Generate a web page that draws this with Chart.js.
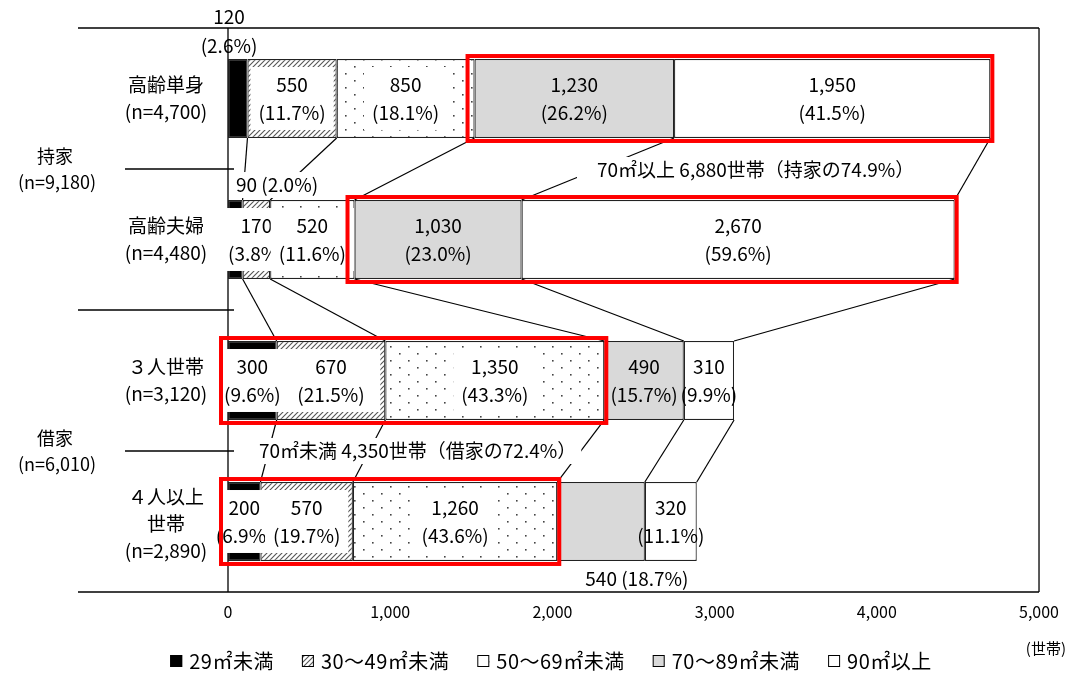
<!DOCTYPE html>
<html lang="ja">
<head>
<meta charset="utf-8">
<script src="https://cdn.jsdelivr.net/npm/chart.js@4.4.1/dist/chart.umd.min.js"></script>
<style>
  html, body { margin: 0; padding: 0; background: #fff; }
</style>
</head>
<body>
<canvas id="chart" width="1069" height="673"></canvas>
<script>
// categories and values
const categories = [['高齢単身', '(n=4,700)'], ['高齢夫婦', '(n=4,480)'], ['３人世帯', '(n=3,120)'], ['４人以上', '世帯', '(n=2,890)']];
const groupLabels = [['持家', '(n=9,180)'], ['借家', '(n=6,010)']];
const sizeLabels = ['29㎡未満', '30～49㎡未満', '50～69㎡未満', '70～89㎡未満', '90㎡以上'];

const under29 = [120, 90, 300, 200];
const from30to49 = [550, 170, 670, 570];
const from50to69 = [850, 520, 1350, 1260];
const from70to89 = [1230, 1030, 490, 540];
const over90 = [1950, 2670, 310, 320];

const pctUnder29 = ['2.6', '2.0', '9.6', '6.9'];
const pct30to49 = ['11.7', '3.8', '21.5', '19.7'];
const pct50to69 = ['18.1', '11.6', '43.3', '43.6'];
const pct70to89 = ['26.2', '23.0', '15.7', '18.7'];
const pctOver90 = ['41.5', '59.6', '9.9', '11.1'];

const xTicks = [0, 1000, 2000, 3000, 4000, 5000];
const ownedNote = '70㎡以上 6,880世帯（持家の74.9%）';
const rentedNote = '70㎡未満 4,350世帯（借家の72.4%）';
const unitLabel = '(世帯)';

const series = [under29, from30to49, from50to69, from70to89, over90];
const pcts = [pctUnder29, pct30to49, pct50to69, pct70to89, pctOver90];

const FONT = "'Noto Sans CJK JP', 'Noto Sans', sans-serif";
Chart.defaults.color = '#000';
Chart.defaults.font.family = FONT;

function hatchPattern() {
    const c = document.createElement('canvas');
    c.width = 5; c.height = 5;
    const g = c.getContext('2d');
    g.fillStyle = '#fff';
    g.fillRect(0, 0, 5, 5);
    g.strokeStyle = '#555';
    g.lineWidth = 1.1;
    g.beginPath();
    g.moveTo(-1, 6); g.lineTo(6, -1);
    g.moveTo(-1, 1); g.lineTo(1, -1);
    g.moveTo(4, 6); g.lineTo(6, 4);
    g.stroke();
    return g.createPattern(c, 'repeat');
}

function dotPattern() {
    const c = document.createElement('canvas');
    c.width = 18; c.height = 14;
    const g = c.getContext('2d');
    g.fillStyle = '#fff';
    g.fillRect(0, 0, 18, 14);
    g.fillStyle = '#444';
    g.fillRect(3, 3, 1.6, 1.6);
    g.fillRect(12, 10, 1.6, 1.6);
    return g.createPattern(c, 'repeat');
}

const fills = ['#000', hatchPattern(), dotPattern(), '#d9d9d9', '#fff'];

function fmt(v) {
    return v.toLocaleString('en-US');
}

function textBox(ctx, x, y, w, h) {
    ctx.fillStyle = '#fff';
    ctx.fillRect(x, y, w, h);
}

function line(ctx, x1, y1, x2, y2) {
    ctx.beginPath();
    ctx.moveTo(x1, y1);
    ctx.lineTo(x2, y2);
    ctx.stroke();
}

function bar(chart, d, i) {
    const el = chart.getDatasetMeta(d).data[i];
    const p = el.getProps(['x', 'y', 'base', 'height'], true);
    return { start: p.base, end: p.x, top: p.y - p.height / 2, bottom: p.y + p.height / 2, cy: p.y, h: p.height };
}

const decor = {
    id: 'decor',
    beforeDatasetsDraw(chart) {
        const ctx = chart.ctx;
        const a = chart.chartArea;
        const ys = chart.scales.y;
        ctx.save();
        ctx.strokeStyle = '#000';
        ctx.lineWidth = 1.3;
        // frame and axis
        line(ctx, 78, a.top, a.right, a.top);
        line(ctx, 78, a.bottom, a.right, a.bottom);
        line(ctx, a.right, a.top, a.right, a.bottom);
        line(ctx, a.left, a.top, a.left, a.bottom);
        // separators between rows
        for (let i = 0; i < categories.length - 1; i++) {
            const y = (ys.getPixelForValue(i) + ys.getPixelForValue(i + 1)) / 2;
            line(ctx, i === 1 ? 78 : 125, y, a.left + 6, y);
        }
        ctx.fillStyle = '#000';
        ctx.textAlign = 'center';
        ctx.textBaseline = 'middle';
        // category labels
        ctx.font = '19px ' + FONT;
        categories.forEach((lines, i) => {
            const cy = ys.getPixelForValue(i);
            const n = lines.length;
            lines.forEach((t, k) => {
                const off = (k - (n - 1) / 2) * 27 + (n > 2 ? 2 : 0);
                ctx.fillText(t, 166, cy + off);
            });
        });
        // group labels
        ctx.font = '18px ' + FONT;
        groupLabels.forEach((g, k) => {
            const cy = (ys.getPixelForValue(k * 2) + ys.getPixelForValue(k * 2 + 1)) / 2;
            ctx.fillText(g[0], 55, cy - 13);
            ctx.fillText(g[1], 57, cy + 13);
        });
        ctx.restore();
    },
    afterDatasetsDraw(chart) {
        const ctx = chart.ctx;
        const a = chart.chartArea;
        ctx.save();

        // connector lines between neighbouring rows
        ctx.strokeStyle = '#000';
        ctx.lineWidth = 1.2;
        for (let i = 0; i < categories.length - 1; i++) {
            for (let d = 0; d < series.length; d++) {
                const b1 = bar(chart, d, i);
                const b2 = bar(chart, d, i + 1);
                line(ctx, b1.end, b1.bottom, b2.end, b2.top);
            }
        }

        // value labels
        ctx.font = '19px ' + FONT;
        ctx.textBaseline = 'middle';
        for (let i = 0; i < categories.length; i++) {
            for (let d = 0; d < series.length; d++) {
                const b = bar(chart, d, i);
                const v = fmt(series[d][i]);
                const p = '(' + pcts[d][i] + '%)';
                const cx = (b.start + b.end) / 2;
                ctx.fillStyle = '#000';
                if (d === 0 && i === 0) {
                    ctx.textAlign = 'center';
                    ctx.fillText(v, b.start + 1, a.top - 11);
                    ctx.fillText(p, b.start + 1, a.top + 18);
                    continue;
                }
                if (d === 0 && i === 1) {
                    const t = v + ' ' + p;
                    const w = ctx.measureText(t).width;
                    textBox(ctx, b.start + 5, b.top - 28, w + 6, 26);
                    ctx.fillStyle = '#000';
                    ctx.textAlign = 'left';
                    ctx.fillText(t, b.start + 8, b.top - 15);
                    continue;
                }
                if (d === 3 && i === 3) {
                    ctx.textAlign = 'center';
                    ctx.fillText(v + ' ' + p, b.end - 8, b.bottom + 18);
                    continue;
                }
                const w = Math.max(ctx.measureText(v).width, ctx.measureText(p).width);
                if (d < 3) {
                    let bw = w + 16;
                    if (d === 0) bw = w + 8;
                    if (d === 1) bw = Math.max(w + 16, (b.end - b.start) - 10);
                    textBox(ctx, cx - bw / 2, b.top + 8, bw, b.h - 16);
                }
                ctx.fillStyle = '#000';
                ctx.textAlign = 'center';
                ctx.fillText(v, cx, b.cy - 14);
                ctx.fillText(p, cx, b.cy + 14);
            }
        }

        // summary notes
        const r0 = bar(chart, 0, 0), r1 = bar(chart, 0, 1), r2 = bar(chart, 0, 2), r3 = bar(chart, 0, 3);
        const ny1 = (r0.bottom + r1.top) / 2;
        const ny2 = (r2.bottom + r3.top) / 2;
        ctx.textAlign = 'left';
        let w = ctx.measureText(ownedNote).width;
        textBox(ctx, 577, ny1 - 12, w + 26, 24);
        ctx.fillStyle = '#000';
        ctx.fillText(ownedNote, 597, ny1 + 1);
        w = ctx.measureText(rentedNote).width;
        textBox(ctx, 254, ny2 - 13, w + 10, 26);
        ctx.fillStyle = '#000';
        ctx.fillText(rentedNote, 259, ny2);

        // red frames
        ctx.strokeStyle = '#ff0000';
        ctx.lineWidth = 4;
        [[0, 3, 4], [1, 3, 4], [2, 0, 2], [3, 0, 2]].forEach(([i, from, to]) => {
            const s = bar(chart, from, i), e = bar(chart, to, i);
            ctx.strokeRect(s.start - 7, s.top - 3, e.end - s.start + 9, s.h + 6);
        });

        ctx.restore();
    },
    afterDraw(chart) {
        const ctx = chart.ctx;
        ctx.save();
        // unit
        ctx.fillStyle = '#000';
        ctx.font = '15px ' + FONT;
        ctx.textAlign = 'right';
        ctx.textBaseline = 'middle';
        ctx.fillText(unitLabel, 1066, 648);

        // legend
        ctx.font = '20px ' + FONT;
        ctx.letterSpacing = '0.5px';
        const box = 12, gapIn = 7, gapOut = 28;
        const widths = sizeLabels.map(t => box + gapIn + ctx.measureText(t).width);
        const total = widths.reduce((s, v) => s + v, 0) + gapOut * (sizeLabels.length - 1);
        let x = 551 - total / 2;
        const y = 661;
        ctx.textAlign = 'left';
        sizeLabels.forEach((t, k) => {
            ctx.fillStyle = fills[k];
            ctx.fillRect(x, y - 6, box, box);
            ctx.strokeStyle = '#000';
            ctx.lineWidth = 1;
            ctx.strokeRect(x + 0.5, y - 5.5, box - 1, box - 1);
            ctx.fillStyle = '#000';
            ctx.fillText(t, x + box + gapIn, y);
            x += widths[k] + gapOut;
        });
        ctx.restore();
    }
};

new Chart(document.getElementById('chart'), {
    type: 'bar',
    data: {
        labels: categories,
        datasets: series.map((data, k) => ({
            label: sizeLabels[k],
            data: data,
            backgroundColor: fills[k],
            borderColor: '#222',
            borderWidth: 1.2,
            borderSkipped: false,
            barPercentage: 0.56,
            categoryPercentage: 1
        }))
    },
    options: {
        indexAxis: 'y',
        responsive: false,
        animation: false,
        devicePixelRatio: 1,
        layout: { padding: { left: 228, right: 29, top: 28, bottom: 0 } },
        plugins: {
            legend: { display: false },
            tooltip: { enabled: false }
        },
        scales: {
            x: {
                stacked: true,
                min: 0,
                max: 5000,
                afterBuildTicks: (s) => { s.ticks = xTicks.map(v => ({ value: v })); },
                ticks: {
                    callback: (v) => fmt(v),
                    font: { size: 16 },
                    padding: 10
                },
                grid: { display: false, drawTicks: false },
                border: { display: false },
                afterFit: (s) => { s.height = 81; }
            },
            y: {
                stacked: true,
                display: false
            }
        }
    },
    plugins: [decor]
});
</script>
</body>
</html>
